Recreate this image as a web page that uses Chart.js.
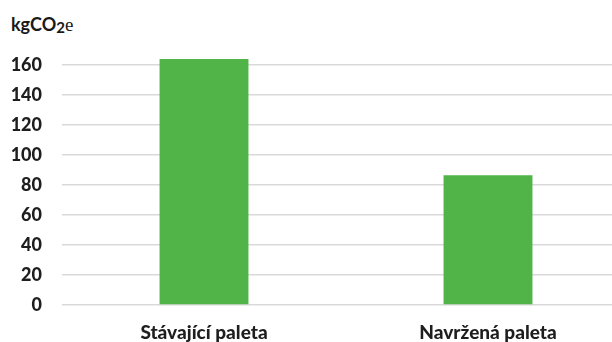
<!DOCTYPE html>
<html>
<head>
<meta charset="utf-8">
<script src="https://cdn.jsdelivr.net/npm/chart.js@4"></script>
<style>
  html, body { margin: 0; padding: 0; background: #fff; overflow: hidden; }
  .wrap { position: relative; width: 612px; height: 342px; overflow: hidden; }
  #chart { position: absolute; left: 0; top: 0; }
  .unit { position: absolute; left: 11px; top: 13px; font: bold 18px Lato, sans-serif; color: #1a1a1a; }
  .unit sub { font-size: 15px; vertical-align: -2px; }
  .unit .e { font: 19px "Liberation Serif", serif; }
</style>
</head>
<body>
<div class="wrap">
  <div class="unit">kgCO<sub>2</sub><span class="e">e</span></div>
  <canvas id="chart" width="630" height="342"></canvas>
</div>
<script>
// Carbon footprint per pallet
const categories = ['Stávající paleta', 'Navržená paleta'];
const emissions = [164, 86.5];
const yTicks = [0, 20, 40, 60, 80, 100, 120, 140, 160];

const textColor = '#1e1e1e';
const gridColor = '#d9d9d9';

document.addEventListener('DOMContentLoaded', function() {
    const ctx = document.getElementById('chart');
    new Chart(ctx, {
        type: 'bar',
        data: {
            labels: categories,
            datasets: [{
                data: emissions,
                backgroundColor: '#50b448',
                categoryPercentage: 1,
                barPercentage: 0.313
            }]
        },
        options: {
            responsive: false,
            animation: false,
            layout: { padding: { top: 35, right: 0, left: 0, bottom: 0 } },
            plugins: {
                legend: { display: false },
                tooltip: { enabled: false }
            },
            scales: {
                x: {
                    grid: { display: false, drawTicks: false },
                    border: { display: false },
                    ticks: {
                        color: textColor,
                        padding: 16,
                        font: { family: 'Lato', size: 19, weight: '900' }
                    },
                    afterFit: function(scale) { scale.height = 37; }
                },
                y: {
                    min: 0,
                    max: 180,
                    afterBuildTicks: function(scale) {
                        scale.ticks = yTicks.map(v => ({ value: v }));
                    },
                    grid: { color: gridColor, lineWidth: 1.5, drawTicks: false },
                    border: { display: false },
                    ticks: {
                        color: textColor,
                        padding: 20,
                        font: { family: 'Lato', size: 18, weight: '900' }
                    },
                    afterFit: function(scale) { scale.width = 62; }
                }
            }
        }
    });
});
</script>
</body>
</html>
